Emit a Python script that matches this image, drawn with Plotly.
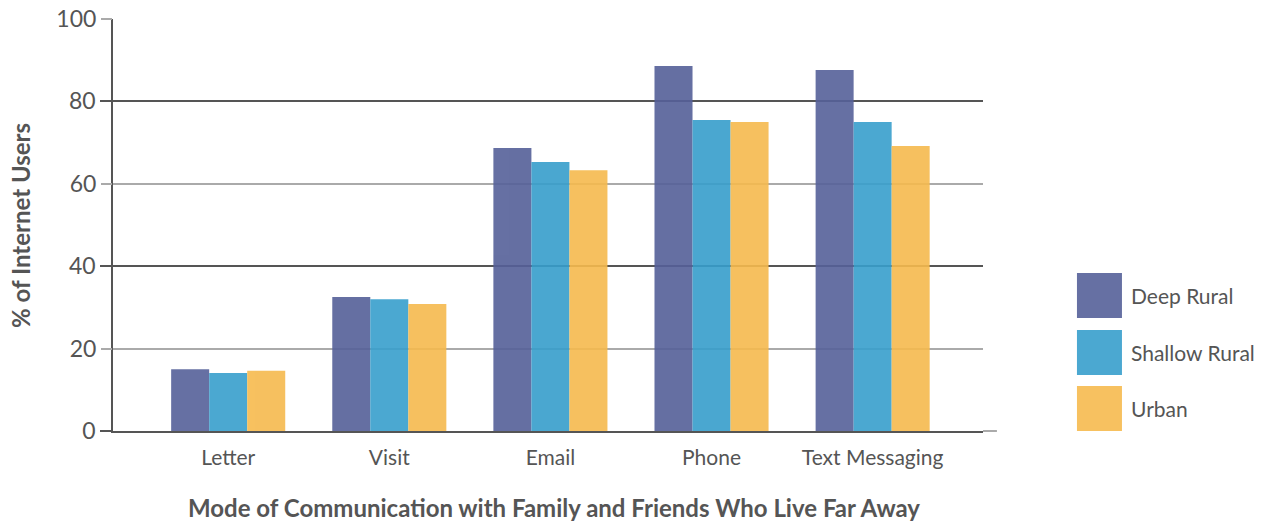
import plotly.graph_objects as go

categories = ["Letter", "Visit", "Email", "Phone", "Text Messaging"]
series_names = ["Deep Rural", "Shallow Rural", "Urban"]
deep_rural = [15.0, 32.5, 68.7, 88.6, 87.6]
shallow_rural = [14.1, 32.0, 65.3, 75.5, 75.0]
urban = [14.6, 30.8, 63.3, 75.0, 69.2]
y_ticks_dark = [0, 40, 80]
y_ticks_light = [20, 60, 100]

colors = ["rgb(85,96,153)", "rgb(55,158,204)", "rgb(246,186,78)"]
shown_colors = ["#6670a3", "#4ba8d1", "#f7c160"]
values = [deep_rural, shallow_rural, urban]

FONT = "Lato"
GREY = "#555555"

fig = go.Figure()
for name, vals, col in zip(series_names, values, colors):
    fig.add_trace(go.Bar(x=categories, y=vals, name=name,
                         marker=dict(color=col, line=dict(width=0)),
                         opacity=0.9, showlegend=False))

# dummy trace to activate overlaying axis
fig.add_trace(go.Scatter(x=categories, y=[None]*5, yaxis="y2", showlegend=False,
                         hoverinfo="skip"))

fig.update_layout(
    width=1270, height=521,
    margin=dict(l=113, r=287, t=19, b=90, autoexpand=False),
    paper_bgcolor="white", plot_bgcolor="white",
    barmode="group", bargap=0.292, bargroupgap=0,
    font=dict(family=FONT, color=GREY),
    xaxis=dict(range=[-0.715, 4.685], showgrid=False, showline=True,
               linecolor=GREY, linewidth=2, ticks="outside", ticklen=7,
               tickcolor="rgba(0,0,0,0)", zeroline=False, automargin=False,
               tickfont=dict(size=21, color=GREY, family=FONT)),
    yaxis=dict(range=[0, 100], tickvals=y_ticks_dark, showgrid=True,
               gridcolor="#555555", gridwidth=1.5, zeroline=False, automargin=False,
               showline=True, linecolor=GREY, linewidth=1.5,
               ticks="outside", ticklen=11, tickcolor="#555555", tickwidth=1.5,
               tickfont=dict(size=23, color=GREY, family=FONT)),
    yaxis2=dict(range=[0, 100], tickvals=y_ticks_light, overlaying="y", side="left",
                showgrid=True, gridcolor="#aaaaaa", gridwidth=2, zeroline=False,
                automargin=False,
                showline=False, ticks="outside", ticklen=11, tickcolor="#aaaaaa",
                tickwidth=2, tickfont=dict(size=23, color=GREY, family=FONT)),
)

annotations = [
    dict(text="<b>% of Internet Users</b>", x=-0.107, y=0.5, xref="paper", yref="paper",
         textangle=-90, showarrow=False, font=dict(size=24, color=GREY, family=FONT),
         xanchor="center", yanchor="middle"),
    dict(text="<b>Mode of Communication with Family and Friends Who Live Far Away</b>",
         x=0.507, y=-0.1845, xref="paper", yref="paper", showarrow=False,
         font=dict(size=24, color=GREY, family=FONT), xanchor="center", yanchor="middle"),
]

# zero-line extension beyond plot edge (light grey, as in reference)
shapes = [dict(type="line", xref="paper", yref="paper", x0=1.0, x1=1.016, y0=0, y1=0,
               line=dict(color="#aaaaaa", width=2))]

# manual legend with large swatches
sw_top = [0.3835, 0.2451, 0.1092]
sw_h = 45 / 412
for i, (name, col) in enumerate(zip(series_names, shown_colors)):
    shapes.append(dict(type="rect", xref="paper", yref="paper",
                       x0=1.108, x1=1.108 + 45 / 870, y0=sw_top[i] - sw_h, y1=sw_top[i],
                       fillcolor=col, line=dict(width=0)))
    annotations.append(dict(text=name, x=1.108 + 52 / 870, y=sw_top[i] - sw_h / 2,
                            xref="paper", yref="paper", showarrow=False,
                            xanchor="left", yanchor="middle",
                            font=dict(size=21, color=GREY, family=FONT)))

fig.update_layout(annotations=annotations, shapes=shapes)
fig.write_html("out.html", config={"displayModeBar": False},
               post_script="document.body.style.margin='0';document.body.style.overflow='hidden';")
